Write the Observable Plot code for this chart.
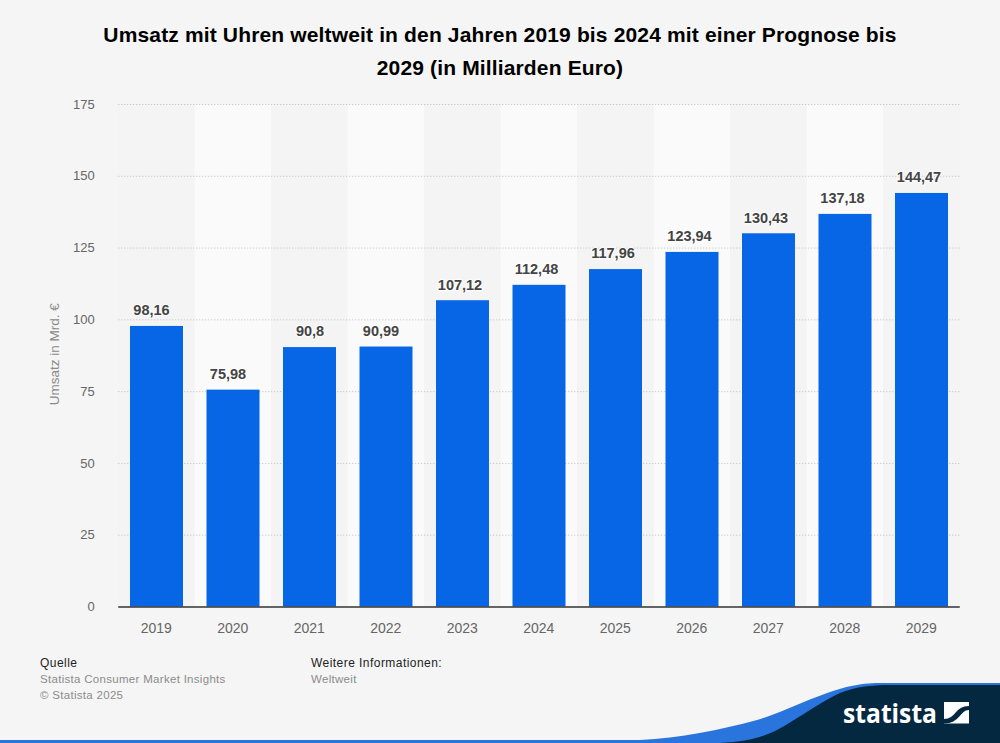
<!DOCTYPE html>
<html lang="de"><head><meta charset="utf-8">
<script src="https://cdn.jsdelivr.net/npm/d3@7"></script>
<script src="https://cdn.jsdelivr.net/npm/@observablehq/plot@0.6"></script>
<style>
html,body{margin:0;padding:0;background:#f5f5f5;font-family:"Liberation Sans",Arial,sans-serif}
#page{position:relative;width:1000px;height:743px;overflow:hidden;background:#f5f5f5}
#title{position:absolute;left:90px;top:18px;width:820px;text-align:center;font-weight:700;font-size:21px;letter-spacing:.15px;line-height:33px;color:#000}
#chart{position:absolute;left:0;top:90px}
.foot{position:absolute;font-size:11.5px;line-height:16px;letter-spacing:.3px;color:#8c8c8c}
.foot b{display:block;font-weight:400;color:#222;font-size:12px;letter-spacing:.45px}
#deco{position:absolute;left:0;top:0}
</style></head><body>
<div id="page">
<div id="title">Umsatz mit Uhren weltweit in den Jahren 2019 bis 2024 mit einer Prognose bis 2029 (in Milliarden Euro)</div>
<div id="chart"></div>
<div class="foot" style="left:40px;top:655px"><b>Quelle</b>Statista Consumer Market Insights<br>© Statista 2025</div>
<div class="foot" style="left:311px;top:655px"><b>Weitere Informationen:</b>Weltweit</div>
<svg id="deco" width="1000" height="743" viewBox="0 0 1000 743">
<rect x="0" y="740" width="760" height="3" fill="#2a74de"/>
<path d="M640 740 C680 738 720 730 757 720 C790 710 825 690 857 685 C868 683 875 683 890 683 L1000 683 L1000 743 L640 743 Z" fill="#2a74de"/>
<path d="M720 743 C745 742 760 738 775 731 C790 724 815 705 840 693 C855 687 870 685 890 685 L1000 685 L1000 743 Z" fill="#03283f"/>
<text x="843" y="723" font-family="'Open Sans','Liberation Sans',sans-serif" font-weight="700" font-size="27" fill="#fff" textLength="94" lengthAdjust="spacingAndGlyphs">statista</text>
<rect x="944" y="702" width="25" height="21.5" fill="#fff"/>
<path d="M944 719 C956 719 955 706 969 706 L969 710 C960 710 960 723.5 944 723.5 Z" fill="#03283f"/>
</svg>
</div>
<script>
const years = ["2019","2020","2021","2022","2023","2024","2025","2026","2027","2028","2029"];
const values = [98.16,75.98,90.8,90.99,107.12,112.48,117.96,123.94,130.43,137.18,144.47];
const yTicks = [0,25,50,75,100,125,150,175];
const rows = years.map((year,i)=>({year,value:values[i],i}));
const fmt = v => String(v).replace(".",",");
const labelMarks = [[4,0],[5,-5.5],[6,-3]].map(([len,dx]) =>
  Plot.text(rows.filter(d=>fmt(d.value).length===len),{x:"year",y:"value",text:d=>fmt(d.value),dx,dy:-14.5,fontSize:14.5,fontWeight:700,fill:"#444",stroke:"#fff",strokeWidth:2.5,strokeOpacity:.7,paintOrder:"stroke"}));
const plot = Plot.plot({
  width:1000, height:560,
  marginTop:14, marginBottom:43.5, marginLeft:118.25, marginRight:40.25,
  style:{background:"transparent",fontFamily:"'Liberation Sans',Arial,sans-serif",overflow:"visible"},
  x:{domain:years,padding:0,round:false,label:null},
  y:{domain:[0,175],label:null},
  marks:[
    Plot.barY(rows,{x:"year",y1:0,y2:175,fill:d=>d.i%2?"#fafafa":"#f4f4f4",inset:0}),
    Plot.ruleY(yTicks.filter(t=>t>0),{stroke:"#bdbdbd",strokeWidth:1,strokeDasharray:"1,2"}),
    Plot.barY(rows,{x:"year",y:"value",fill:"#0766e6",insetLeft:11.75,insetRight:11.75,insetTop:1.3}),
    Plot.ruleY([0],{stroke:"#333",strokeWidth:1.5}),
    Plot.axisY({ticks:yTicks,tickSize:0,tickPadding:24,fontSize:13,fill:"#666",label:null,textAnchor:"end"}),
    Plot.axisX({tickSize:0,tickPadding:16,fontSize:14,fill:"#666",label:null,dx:-0.7}),
    ...labelMarks,
    Plot.text(["Umsatz in Mrd. €"],{frameAnchor:"left",textAnchor:"middle",dx:-64.5,dy:-1.5,rotate:-90,fontSize:13.5,fill:"#8a8a8a"})
  ]
});
document.getElementById("chart").append(plot);
</script>
</body></html>
